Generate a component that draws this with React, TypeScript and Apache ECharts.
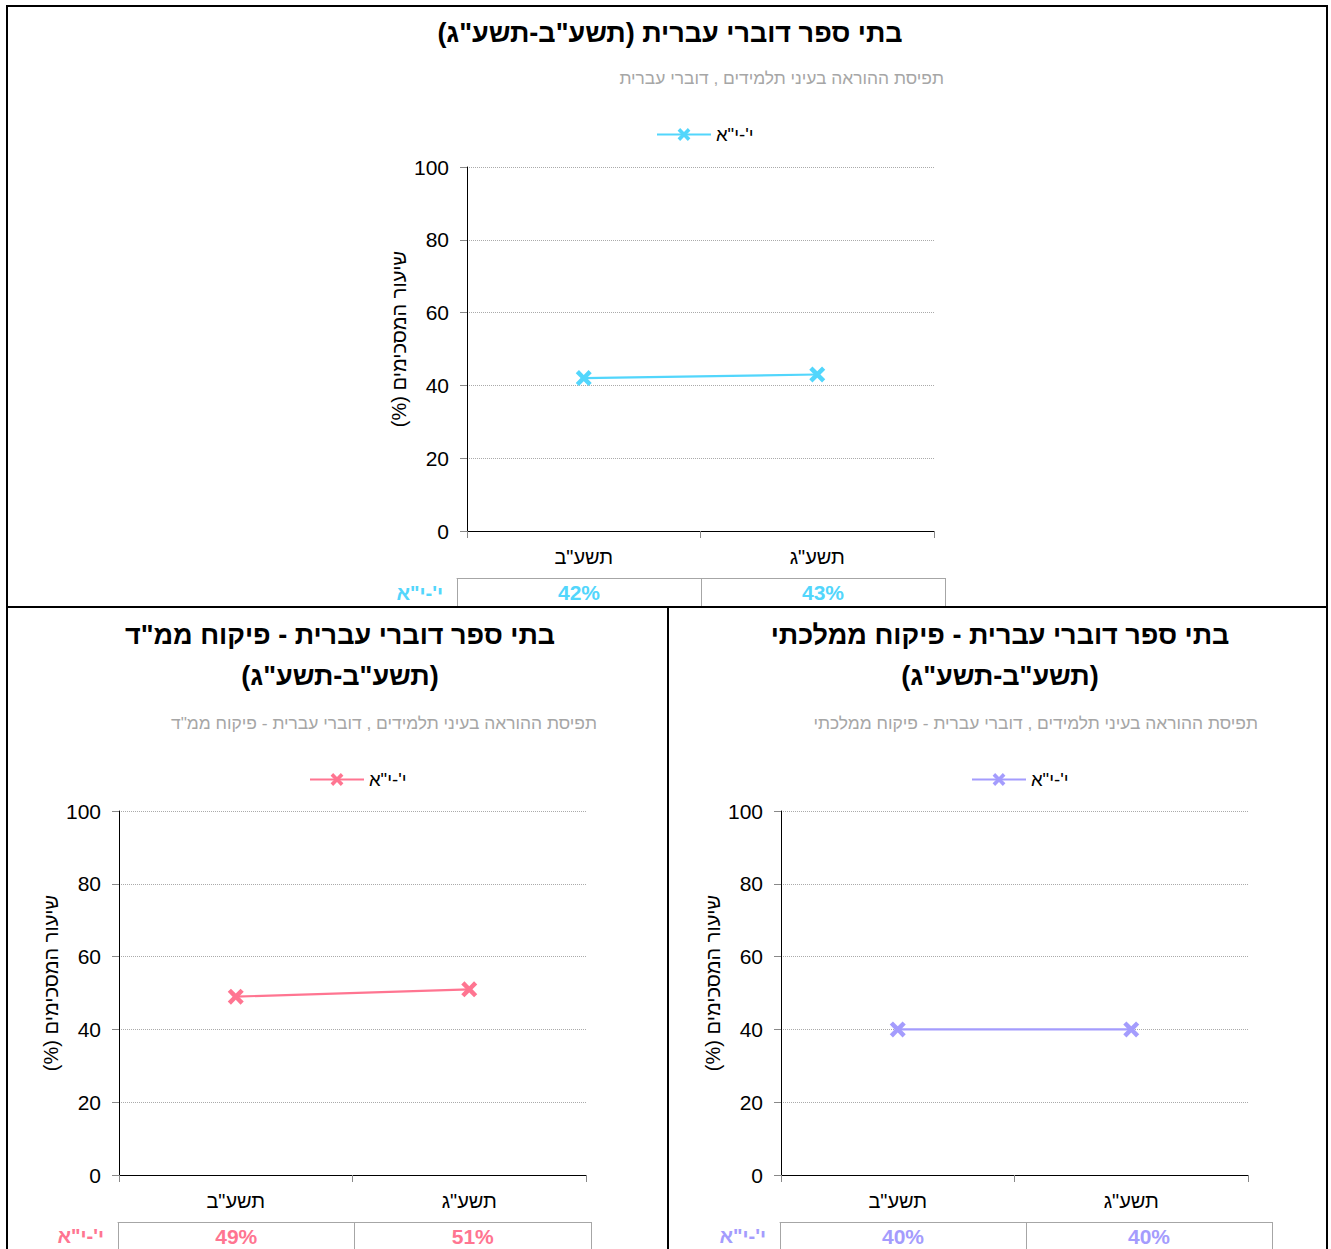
import React, { useEffect, useRef } from "react";
import * as echarts from "echarts";

const categories = ['תשע"ב', 'תשע"ג'];
const seriesLabel = 'י\'-י"א';
const seriesKeys = ["all", "mmd", "mamlachti"];
const valuesAll = [42, 43];
const valuesMmd = [49, 51];
const valuesMamlachti = [40, 40];
const panelValues = [valuesAll, valuesMmd, valuesMamlachti];
const panelColors = ["#52D6FC", "#FF7591", "#A49CFD"];
const titles = [
  'בתי ספר דוברי עברית (תשע"ב-תשע"ג)',
  'בתי ספר דוברי עברית - פיקוח ממ"ד\n(תשע"ב-תשע"ג)',
  'בתי ספר דוברי עברית - פיקוח ממלכתי\n(תשע"ב-תשע"ג)',
];
const subtitles = [
  "תפיסת ההוראה בעיני תלמידים , דוברי עברית",
  'תפיסת ההוראה בעיני תלמידים , דוברי עברית - פיקוח ממ"ד',
  "תפיסת ההוראה בעיני תלמידים , דוברי עברית - פיקוח ממלכתי",
];
const yAxisName = "שיעור המסכימים (%)";
const yTicks = { min: 0, max: 100, interval: 20 };

const FONT = "'Liberation Sans', Arial, sans-serif";
const rtl = (s: string) =>
  s
    .split("\n")
    .map((l) => "\u200F" + l + "\u200F")
    .join("\n");

const X_SYMBOL =
  "path://M0,2 L2,0 L5,3 L8,0 L10,2 L7,5 L10,8 L8,10 L5,7 L2,10 L0,8 L3,5 Z";

// layout per panel
const layout = [
  { plotLeft: 467, plotTop: 167, titleX: 670, titleTop: 12, subRight: 944, subTop: 68, legendLeft: 656, legendTop: 125, tableLeft: 457, tableWidth: 488, tableTop: 578, tableH: 29 },
  { plotLeft: 119, plotTop: 811, titleX: 340, titleTop: 614, subRight: 597, subTop: 713, legendLeft: 309, legendTop: 770, tableLeft: 118, tableWidth: 473, tableTop: 1222, tableH: 30 },
  { plotLeft: 781, plotTop: 811, titleX: 1000, titleTop: 614, subRight: 1258, subTop: 713, legendLeft: 971, legendTop: 770, tableLeft: 780, tableWidth: 492, tableTop: 1222, tableH: 30 },
];
const PLOT_W = 467;
const PLOT_H = 364;

export default function App() {
  const ref = useRef<HTMLDivElement>(null);
  useEffect(() => {
    if (!ref.current) return;
    const chart = echarts.init(ref.current, undefined, { renderer: "svg" });

    const title: any[] = [];
    const legend: any[] = [];
    const grid: any[] = [];
    const xAxis: any[] = [];
    const yAxis: any[] = [];
    const series: any[] = [];

    layout.forEach((L, i) => {
      const color = panelColors[i];
      title.push({
        text: rtl(titles[i]),
        left: L.titleX,
        top: L.titleTop,
        textAlign: "center",
        padding: 0,
        textStyle: { fontFamily: FONT, fontSize: 27, fontWeight: "bold", color: "#000", lineHeight: 41 },
      });
      title.push({
        text: rtl(subtitles[i]),
        left: L.subRight,
        top: L.subTop,
        textAlign: "right",
        padding: 0,
        textStyle: { fontFamily: FONT, fontSize: 17.4, fontWeight: "normal", color: "#a6a6a6", lineHeight: 20 },
      });
      legend.push({
        data: [seriesKeys[i]],
        left: L.legendLeft,
        top: L.legendTop,
        padding: 0,
        itemWidth: 54,
        itemHeight: 16,
        itemGap: 4,
        formatter: () => seriesLabel,
        textStyle: { fontFamily: FONT, fontSize: 18.5, color: "#000" },
      });
      grid.push({ left: L.plotLeft, top: L.plotTop, width: PLOT_W, height: PLOT_H, containLabel: false });
      xAxis.push({
        gridIndex: i,
        type: "category",
        data: categories,
        boundaryGap: true,
        axisLine: { show: true, lineStyle: { color: "#000", width: 1 } },
        axisTick: { show: true, length: 7, lineStyle: { color: "#888" } },
        axisLabel: { fontFamily: FONT, fontSize: 20, color: "#000", margin: 16 },
        splitLine: { show: false },
      });
      yAxis.push({
        gridIndex: i,
        type: "value",
        min: yTicks.min,
        max: yTicks.max,
        interval: yTicks.interval,
        name: rtl(yAxisName),
        nameLocation: "middle",
        nameRotate: 90,
        nameGap: 58,
        nameTextStyle: { fontFamily: FONT, fontSize: 20, color: "#000", padding: [0, 0, 0, 20] },
        axisLine: { show: true, lineStyle: { color: "#000", width: 1 } },
        axisTick: { show: true, length: 7, lineStyle: { color: "#888" } },
        axisLabel: { fontFamily: FONT, fontSize: 21, color: "#000", margin: 18 },
        splitLine: { show: true, lineStyle: { color: "#aaa", type: "dotted", width: 1 } },
      });
      series.push({
        name: seriesKeys[i],
        type: "line",
        xAxisIndex: i,
        yAxisIndex: i,
        data: panelValues[i],
        symbol: X_SYMBOL,
        symbolSize: 16,
        lineStyle: { color, width: 2.2 },
        itemStyle: { color },
        label: { show: false },
      });
    });

    // data tables under each plot
    layout.forEach((L, i) => {
      const color = panelColors[i];
      const gi = 3 + i;
      grid.push({ left: L.tableLeft, top: L.tableTop, width: L.tableWidth, height: L.tableH, containLabel: false });
      xAxis.push({
        gridIndex: gi,
        type: "category",
        position: "top",
        data: panelValues[i].map((v) => v + "%"),
        boundaryGap: true,
        axisLine: { show: true, lineStyle: { color: "#a6a6a6", width: 1 } },
        axisTick: { show: true, inside: true, length: L.tableH, lineStyle: { color: "#a6a6a6", width: 1 } },
        axisLabel: { inside: true, margin: 4, fontFamily: FONT, fontSize: 21, fontWeight: "bold", color },
        splitLine: { show: false },
      });
      yAxis.push({
        gridIndex: gi,
        type: "category",
        data: [seriesLabel],
        axisLine: { show: false },
        axisTick: { show: false },
        axisLabel: { fontFamily: FONT, fontSize: 20, fontWeight: "bold", color, margin: 14 },
        splitLine: { show: false },
      });
    });

    const black = { stroke: "#000", lineWidth: 2, fill: "none" };
    const graphic = [
      { type: "rect", shape: { x: 7, y: 6, width: 1320, height: 601 }, style: black, z: 100 },
      { type: "line", shape: { x1: 7, y1: 607, x2: 7, y2: 1260 }, style: black, z: 100 },
      { type: "line", shape: { x1: 668, y1: 607, x2: 668, y2: 1260 }, style: black, z: 100 },
      { type: "line", shape: { x1: 1327, y1: 607, x2: 1327, y2: 1260 }, style: black, z: 100 },
    ];

    chart.setOption({
      animation: false,
      backgroundColor: "#fff",
      textStyle: { fontFamily: FONT },
      title,
      legend,
      grid,
      xAxis,
      yAxis,
      series,
      graphic,
    });
    return () => chart.dispose();
  }, []);
  return (
    <div
      ref={ref}
      style={{ position: "absolute", left: 0, top: 0, width: 1331, height: 1249, background: "#fff" }}
    />
  );
}
